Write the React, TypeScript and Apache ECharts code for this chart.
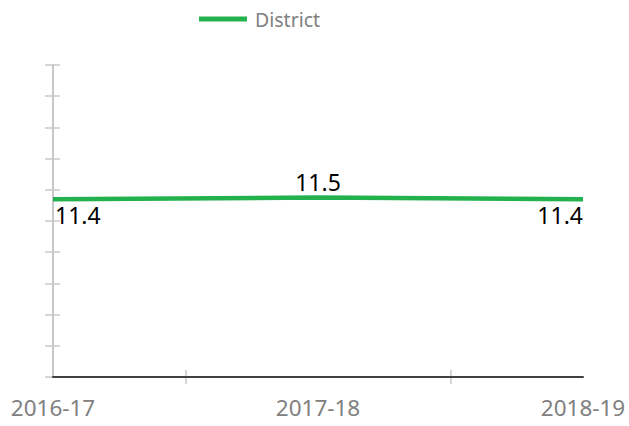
import React, { useEffect, useRef } from "react";
import * as echarts from "echarts";

const categories = ["2016-17", "2017-18", "2018-19"];
const districtValues = [11.4, 11.5, 11.4];
const seriesName = "District";
const yMin = 0;
const yMax = 20;
const yInterval = 2;

export default function App() {
  const ref = useRef<HTMLDivElement>(null);
  useEffect(() => {
    if (!ref.current) return;
    const chart = echarts.init(ref.current, null, { renderer: "svg" });
    const font = "Noto Sans";
    const labelCfg = [
      { position: "bottom", align: "left", offset: [2, 2] },
      { position: "top", align: "center", offset: [0, -2] },
      { position: "bottom", align: "right", offset: [0, 2] },
    ];
    chart.setOption({
      animation: false,
      legend: {
        top: 4,
        left: 194,
        icon: "rect",
        itemWidth: 48,
        itemHeight: 5,
        itemGap: 10,
        textStyle: { color: "#808080", fontSize: 19.5, fontFamily: font, padding: [0, 0, 0, 3] },
        data: [seriesName],
      },
      grid: { left: 53, right: 46, top: 65, bottom: 49 },
      xAxis: [
        {
          type: "category",
          data: categories,
          boundaryGap: false,
          axisLine: { show: true, lineStyle: { color: "#404040", width: 2 } },
          axisTick: { show: false },
          axisLabel: { color: "#808080", fontSize: 22.5, fontFamily: font, margin: 19 },
          splitLine: { show: false },
          z: 3,
        },
        {
          type: "category",
          data: ["", ""],
          boundaryGap: true,
          position: "bottom",
          offset: -7,
          axisLine: { show: false },
          axisTick: { show: true, alignWithLabel: true, length: 14, lineStyle: { color: "#c8c8c8", width: 1.5 } },
          axisLabel: { show: false },
          splitLine: { show: false },
        },
      ],
      yAxis: [
        {
          type: "value",
          min: yMin,
          max: yMax,
          interval: yInterval,
          axisLine: { show: true, lineStyle: { color: "#c8c8c8", width: 2 } },
          axisTick: { show: false },
          axisLabel: { show: false },
          splitLine: { show: false },
        },
        {
          type: "value",
          min: yMin,
          max: yMax,
          interval: yInterval,
          position: "left",
          offset: -7,
          axisLine: { show: false },
          axisTick: { show: true, length: 15, lineStyle: { color: "#c8c8c8", width: 1.5 } },
          axisLabel: { show: false },
          splitLine: { show: false },
        },
      ],
      series: [
        {
          name: seriesName,
          type: "line",
          data: districtValues.map((v, i) => ({
            value: v,
            label: {
              show: true,
              position: labelCfg[i].position,
              align: labelCfg[i].align,
              offset: labelCfg[i].offset,
            },
          })),
          xAxisIndex: 0,
          yAxisIndex: 0,
          showSymbol: true,
          symbol: "circle",
          symbolSize: 0,
          lineStyle: { color: "#23B14D", width: 4.5 },
          itemStyle: { color: "#23B14D" },
          label: {
            show: true,
            color: "#000",
            fontSize: 23,
            fontFamily: font,
            distance: 2,
            formatter: (p: any) => p.value.toFixed(1),
          },
          z: 4,
        },
      ],
    });
    return () => chart.dispose();
  }, []);
  return <div ref={ref} style={{ width: 629, height: 426, position: "absolute", left: 0, top: 0 }} />;
}
